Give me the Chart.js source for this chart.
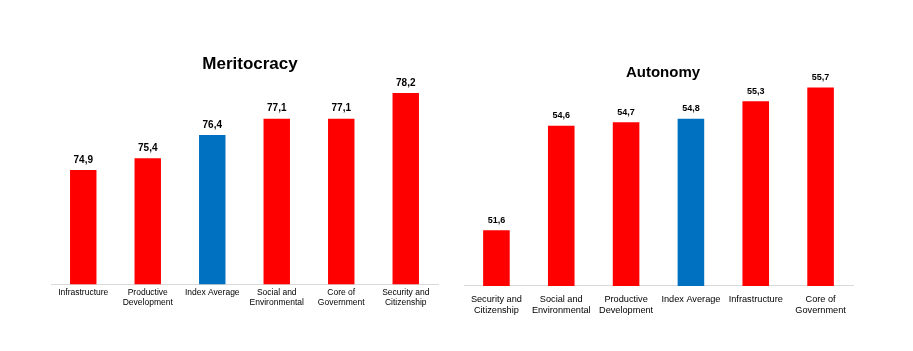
<!DOCTYPE html>
<html>
<head>
  <title>Meritocracy and Autonomy</title>
  <script src="https://cdn.jsdelivr.net/npm/chart.js"></script>
  <style>
    html, body { margin: 0; padding: 0; background: #fff; }
    .box { position: absolute; top: 0; height: 351px; }
  </style>
</head>
<body>
  <div class="box" style="left:0;width:456px;"><canvas id="leftChart"></canvas></div>
  <div class="box" style="left:456px;width:457px;"><canvas id="rightChart"></canvas></div>

  <script>
    // Meritocracy
    const meritLabels = [["Infrastructure"], ["Productive", "Development"], ["Index Average"],
      ["Social and", "Environmental"], ["Core of", "Government"], ["Security and", "Citizenship"]];
    const meritValues = [74.9, 75.4, 76.4, 77.1, 77.1, 78.2];

    // Autonomy
    const autoLabels = [["Security and", "Citizenship"], ["Social and", "Environmental"], ["Productive", "Development"],
      ["Index Average"], ["Infrastructure"], ["Core of", "Government"]];
    const autoValues = [51.6, 54.6, 54.7, 54.8, 55.3, 55.7];

    const RED = '#FF0000';
    const BLUE = '#0070C0';
    const FONT = "'Liberation Sans', Arial, sans-serif";

    function barColors(labels) {
      return labels.map(l => l.join(' ') === 'Index Average' ? BLUE : RED);
    }

    // value labels above bars, with comma decimals
    const valueLabels = {
      id: 'valueLabels',
      afterDatasetsDraw(chart, args, opts) {
        const ctx = chart.ctx;
        const meta = chart.getDatasetMeta(0);
        ctx.save();
        ctx.fillStyle = '#000';
        ctx.font = opts.font;
        ctx.textAlign = 'center';
        ctx.textBaseline = 'middle';
        meta.data.forEach((bar, i) => {
          const v = chart.data.datasets[0].data[i];
          ctx.fillText(v.toFixed(1).replace('.', ','), bar.x, bar.y - 10);
        });
        ctx.restore();
      }
    };

    // chart title drawn over the plot area (like the original)
    const overTitle = {
      id: 'overTitle',
      afterDraw(chart, args, opts) {
        const ctx = chart.ctx;
        ctx.save();
        ctx.fillStyle = '#000';
        ctx.font = 'bold ' + opts.size + "px 'Liberation Sans', Arial, sans-serif";
        ctx.textAlign = 'center';
        ctx.textBaseline = 'middle';
        ctx.fillText(opts.text, opts.x, opts.y);
        ctx.restore();
      }
    };

    function makeChart(id, labels, values, yMin, yMax, pad, title, labelFont, tick) {
      return new Chart(document.getElementById(id), {
        type: 'bar',
        data: {
          labels: labels,
          datasets: [{
            data: values,
            backgroundColor: barColors(labels),
            categoryPercentage: 1,
            barPercentage: 0.41
          }]
        },
        options: {
          responsive: true,
          maintainAspectRatio: false,
          animation: false,
          layout: { padding: pad },
          scales: {
            x: {
              grid: { display: false, drawTicks: false },
              border: { display: true, color: '#D9D9D9', width: 1 },
              ticks: {
                color: '#000',
                maxRotation: 0,
                autoSkip: false,
                padding: tick.padding,
                font: { family: FONT, size: tick.size, lineHeight: tick.lineHeight }
              }
            },
            y: {
              display: false,
              min: yMin,
              max: yMax
            }
          },
          plugins: {
            legend: { display: false },
            tooltip: { enabled: false },
            title: { display: false },
            valueLabels: { font: labelFont },
            overTitle: title
          }
        },
        plugins: [valueLabels, overTitle]
      });
    }

    makeChart('leftChart', meritLabels, meritValues, 70, 80,
      { left: 51, right: 18, top: 51, bottom: 40 },
      { text: 'Meritocracy', x: 250, y: 64, size: 17 },
      "bold 10px 'Liberation Sans', Arial, sans-serif",
      { size: 8.5, lineHeight: 1.1, padding: 4 });

    makeChart('rightChart', autoLabels, autoValues, 50, 56,
      { left: 8, right: 60, top: 77, bottom: 27 },
      { text: 'Autonomy', x: 207, y: 73, size: 15 },
      "bold 9px 'Liberation Sans', Arial, sans-serif",
      { size: 9.2, lineHeight: 1.2, padding: 8 });
  </script>
</body>
</html>
